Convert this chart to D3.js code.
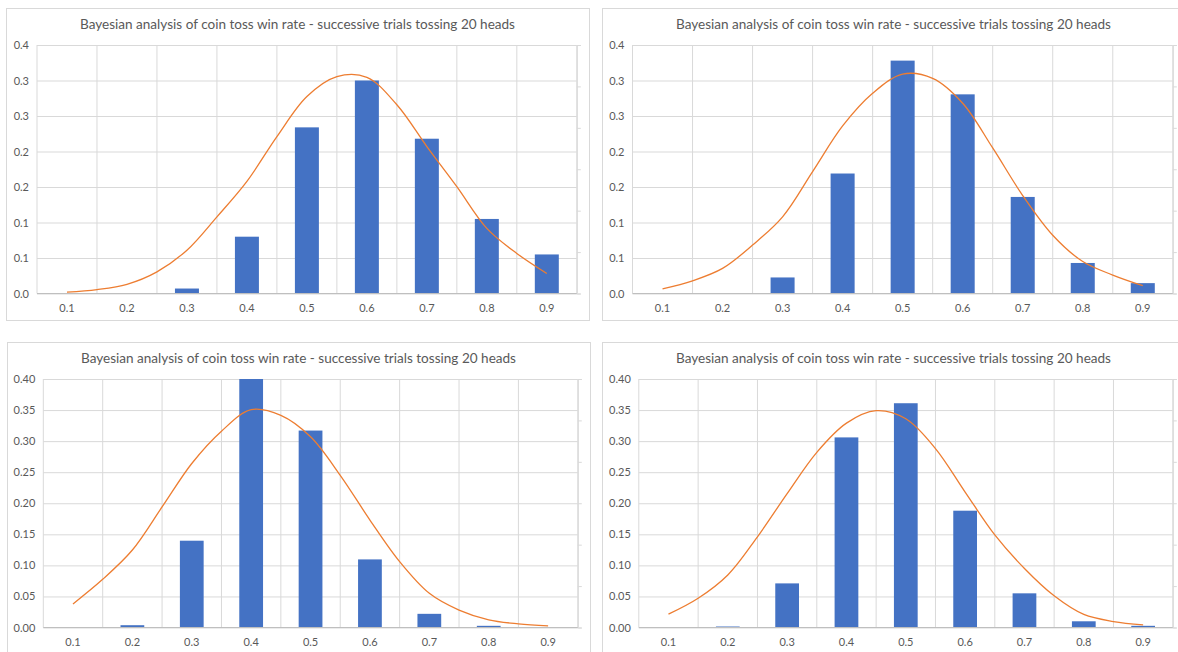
<!DOCTYPE html>
<html>
<head>
<meta charset="utf-8">
<script src="https://cdn.jsdelivr.net/npm/d3@7"></script>
<style>
  html, body { margin: 0; padding: 0; background: #fff; }
  svg { display: block; }
  text { font-family: Lato, "Liberation Sans", Arial, sans-serif; fill: #595959; }
</style>
</head>
<body>
<svg id="chart" width="1178" height="652"></svg>
<script>
// Win-rate categories on the x axis
const categories = ["0.1", "0.2", "0.3", "0.4", "0.5", "0.6", "0.7", "0.8", "0.9"];
// Sample positions of the smoothed posterior curve
const curveX = [0.1, 0.15, 0.2, 0.25, 0.3, 0.35, 0.4, 0.45, 0.5, 0.55, 0.6, 0.65, 0.7, 0.75, 0.8, 0.85, 0.9];

const title = "Bayesian analysis of coin toss win rate - successive trials tossing 20 heads";

// Trial 1
const bars1  = [0, 0, 0.007, 0.080, 0.234, 0.300, 0.218, 0.105, 0.055];
const curve1 = [0.002, 0.0056, 0.013, 0.0305, 0.061, 0.108, 0.158, 0.221, 0.2775, 0.3055, 0.3045, 0.2658, 0.207, 0.1505, 0.0917, 0.0564, 0.0282];
// Trial 2
const bars2  = [0, 0, 0.0226, 0.169, 0.328, 0.2805, 0.136, 0.043, 0.0146];
const curve2 = [0.0066, 0.0179, 0.0353, 0.0682, 0.108, 0.1717, 0.236, 0.282, 0.309, 0.303, 0.268, 0.205, 0.138, 0.082, 0.045, 0.026, 0.011];
// Trial 3
const bars3  = [0, 0.0037, 0.1397, 0.400, 0.317, 0.1096, 0.022, 0.0027, 0];
const curve3 = [0.038, 0.0776, 0.1247, 0.194, 0.264, 0.316, 0.3506, 0.3415, 0.307, 0.245, 0.173, 0.106, 0.055, 0.028, 0.0123, 0.0059, 0.0027];
// Trial 4
const bars4  = [0, 0.0016, 0.071, 0.306, 0.361, 0.188, 0.055, 0.010, 0.0027];
const curve4 = [0.0214, 0.047, 0.0845, 0.146, 0.2155, 0.282, 0.329, 0.349, 0.336, 0.288, 0.218, 0.149, 0.095, 0.051, 0.021, 0.0096, 0.0043];

// Primary y-axis ticks and their labels
const yTicksShort = [0, 0.05, 0.1, 0.15, 0.2, 0.25, 0.3, 0.35];
const yLabelsShort = ["0.0", "0.1", "0.1", "0.2", "0.2", "0.3", "0.3", "0.4"];
const yTicksLong = [0, 0.05, 0.1, 0.15, 0.2, 0.25, 0.3, 0.35, 0.4];
const yLabelsLong = ["0.00", "0.05", "0.10", "0.15", "0.20", "0.25", "0.30", "0.35", "0.40"];

const BAR = "#4472C4", LINE = "#ED7D31", GRID = "#d9d9d9", AXIS = "#bfbfbf";
const FONT = "Lato, 'Liberation Sans', Arial, sans-serif";

const svg = d3.select("#chart");
svg.append("rect").attr("width", 1178).attr("height", 652).attr("fill", "#fff");

const panels = [
  { box: [6, 8],    plotL: 31,   bars: bars1, curve: curve1, yMax: 0.35, ticks: yTicksShort, labels: yLabelsShort },
  { box: [602, 8],  plotL: 30.5, bars: bars2, curve: curve2, yMax: 0.35, ticks: yTicksShort, labels: yLabelsShort },
  { box: [7, 342],  plotL: 36.3, bars: bars3, curve: curve3, yMax: 0.40, ticks: yTicksLong,  labels: yLabelsLong },
  { box: [602, 342], plotL: 36.8, bars: bars4, curve: curve4, yMax: 0.40, ticks: yTicksLong,  labels: yLabelsLong }
];

const boxW = 583, boxH = 312;

panels.forEach(p => {
  const [bx, by] = p.box;
  const g = svg.append("g").attr("transform", `translate(${bx},${by})`);

  g.append("rect").attr("x", 0.5).attr("y", 0.5).attr("width", boxW).attr("height", boxH)
    .attr("fill", "#fff").attr("stroke", GRID).attr("stroke-width", 1);

  const L = p.plotL, R = 570.8, T = 37, B = 285.5;

  const x = d3.scaleBand().domain(categories).range([L, R]).paddingInner(0.6).paddingOuter(0.3);
  const y = d3.scaleLinear().domain([0, p.yMax]).range([B, T]);
  const half = x.bandwidth() / 2;
  const xc = d3.scaleLinear().domain([0.1, 0.9]).range([x("0.1") + half, x("0.9") + half]);
  const y2 = d3.scaleLinear().domain([0, 6]).range([B, T]);

  // Horizontal gridlines + y labels
  const yAxis = d3.axisLeft(y).tickValues(p.ticks).tickSize(-(R - L)).tickPadding(8)
    .tickFormat((d, i) => p.labels[i]);
  const ya = g.append("g").attr("transform", `translate(${L},0)`).call(yAxis);
  ya.select(".domain").remove();
  ya.selectAll(".tick line").attr("stroke", GRID).attr("stroke-width", 1);
  ya.selectAll(".tick text").attr("font-size", 11).attr("fill", "#595959")
    .style("font-family", FONT);

  // Vertical gridlines at category boundaries
  const bounds = categories.map(c => x(c) - x.step() * x.paddingOuter()).concat([R]);
  g.append("g").selectAll("line").data(bounds).join("line")
    .attr("x1", d => d).attr("x2", d => d).attr("y1", T).attr("y2", B)
    .attr("stroke", GRID).attr("stroke-width", 1);

  // Secondary axis tick marks on the right edge
  const y2Axis = d3.axisRight(y2).ticks(6).tickSize(4).tickFormat("");
  const ra = g.append("g").attr("transform", `translate(${R},0)`).call(y2Axis);
  ra.select(".domain").attr("stroke", GRID);
  ra.selectAll(".tick line").attr("stroke", GRID);

  // Bars
  g.append("g").selectAll("rect").data(p.bars).join("rect")
    .attr("x", (d, i) => x(categories[i]))
    .attr("width", x.bandwidth())
    .attr("y", d => y(Math.min(d, p.yMax)))
    .attr("height", d => B - y(Math.min(d, p.yMax)))
    .attr("fill", BAR);

  // X axis
  const xAxis = d3.axisBottom(x).tickSize(0).tickPadding(11);
  const xa = g.append("g").attr("transform", `translate(0,${B})`).call(xAxis);
  xa.select(".domain").attr("stroke", AXIS).attr("d", `M${L},0H${R}`);
  xa.selectAll(".tick text").attr("font-size", 11).attr("fill", "#595959")
    .style("font-family", FONT);

  // Smoothed posterior curve
  const line = d3.line().x((d, i) => xc(curveX[i])).y(d => y(d)).curve(d3.curveCatmullRom.alpha(0.5));
  g.append("path").datum(p.curve).attr("d", line)
    .attr("fill", "none").attr("stroke", LINE).attr("stroke-width", 1.3);

  // Title
  g.append("text").attr("x", boxW / 2).attr("y", 21)
    .attr("text-anchor", "middle").attr("font-size", 14)
    .attr("textLength", 435).attr("lengthAdjust", "spacingAndGlyphs")
    .text(title);
});
</script>
</body>
</html>
